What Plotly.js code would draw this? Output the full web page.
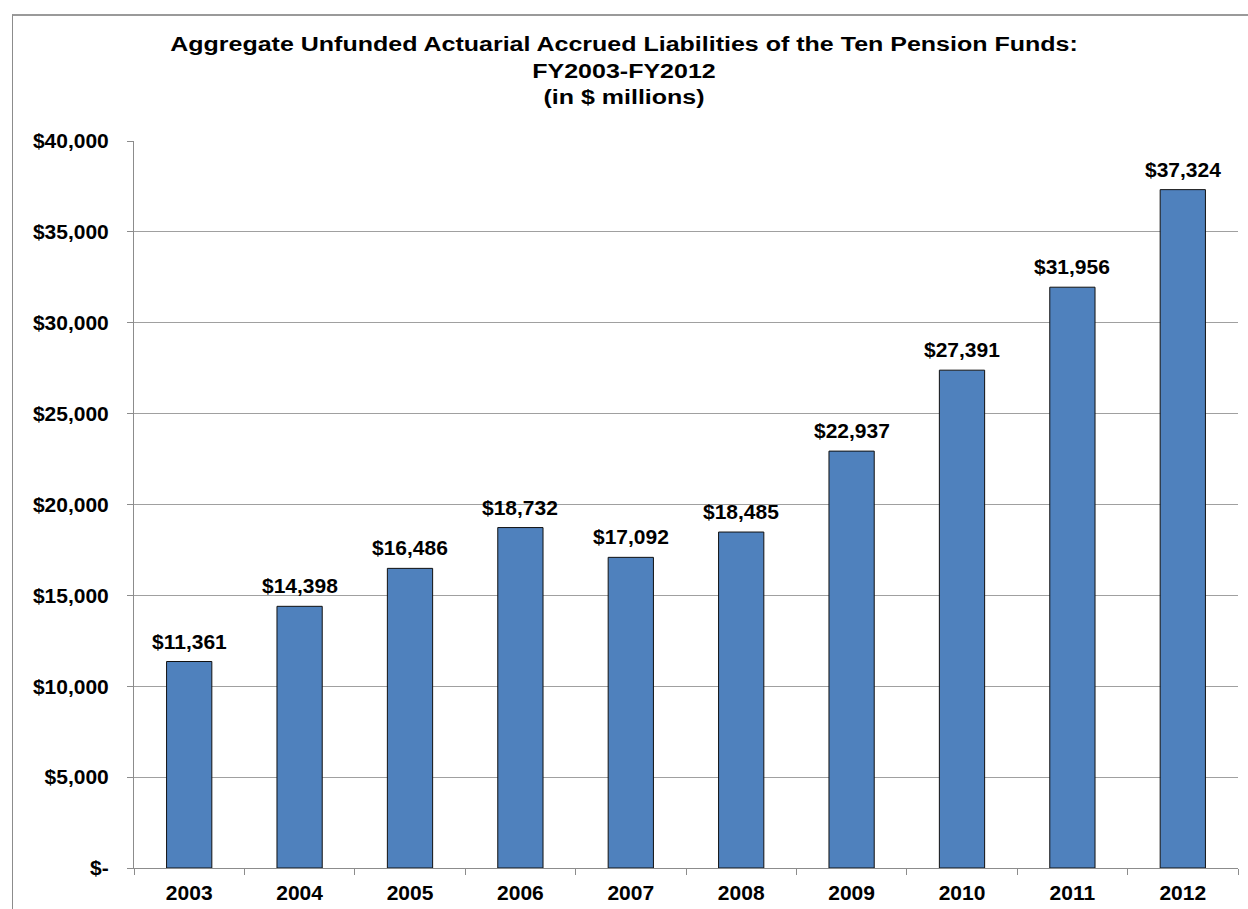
<!DOCTYPE html>
<html>
<head>
<meta charset="utf-8">
<script src="https://cdn.plot.ly/plotly-3.0.1.min.js"></script>
<style>
  html, body { margin: 0; padding: 0; background: #fff; }
  #chart { position: absolute; left: 0; top: 0; width: 1248px; height: 909px; }
  #frame { position: absolute; left: 12px; top: 14px; width: 1248px; height: 909px;
           border-left: 1px solid #8c8c8c; border-top: 2px solid #9a9a9a; pointer-events: none; }
</style>
</head>
<body>
<div id="chart"></div>
<div id="frame"></div>
<script>
const years = ["2003", "2004", "2005", "2006", "2007", "2008", "2009", "2010", "2011", "2012"];
const liabilities = [11361, 14398, 16486, 18732, 17092, 18485, 22937, 27391, 31956, 37324];
const yTickVals = [0, 5000, 10000, 15000, 20000, 25000, 30000, 35000, 40000];
const yTickText = ["$-", "$5,000", "$10,000", "$15,000", "$20,000", "$25,000", "$30,000", "$35,000", "$40,000"];
const titleLines = ["Aggregate Unfunded Actuarial Accrued Liabilities of the Ten Pension Funds:", "FY2003-FY2012", "(in $ millions)"];

const font = "'Liberation Sans', Arial, Helvetica, sans-serif";
const labelSize = 21;

const trace = {
  type: "bar",
  x: years,
  y: liabilities,
  marker: { color: "#4F81BD", line: { color: "#111111", width: 1 } },
  hoverinfo: "none"
};

// data labels above each bar (x given as category index)
const labelAnnotations = years.map((yr, i) => ({
  x: i,
  y: liabilities[i],
  xref: "x", yref: "y",
  text: "$" + liabilities[i].toLocaleString("en-US"),
  showarrow: false,
  xanchor: "center",
  yanchor: "bottom",
  yshift: 7,
  font: { family: font, size: labelSize, color: "#000", weight: "bold" }
}));

const layout = {
  width: 1248,
  height: 909,
  margin: { l: 134, r: 10, t: 141, b: 41 },
  paper_bgcolor: "#fff",
  plot_bgcolor: "#fff",
  font: { family: font, color: "#000" },
  bargap: 0.59,
  showlegend: false,
  title: {
    text: titleLines.join("<br>"),
    font: { family: font, size: 20.5, color: "#000", weight: "bold" },
    x: 0.5, xref: "container", xanchor: "center",
    y: 1 - 51 / 909, yref: "container", yanchor: "top"
  },
  annotations: labelAnnotations,
  xaxis: {
    type: "category",
    range: [-0.5, years.length - 0.5],
    showline: true, linecolor: "#8c8c8c", linewidth: 1,
    ticks: "outside", tickson: "boundaries", ticklen: 6, tickcolor: "#8c8c8c",
    showgrid: false,
    tickfont: { family: font, size: labelSize, color: "#000", weight: "bold" },
    ticklabelstandoff: 6
  },
  yaxis: {
    range: [0, 40000],
    tickvals: yTickVals,
    ticktext: yTickText,
    tickfont: { family: font, size: labelSize, color: "#000", weight: "bold" },
    showgrid: true, gridcolor: "#a0a0a0", gridwidth: 1,
    showline: true, linecolor: "#8c8c8c", linewidth: 1,
    ticks: "outside", ticklen: 6, tickcolor: "#8c8c8c",
    zeroline: false,
    ticklabelstandoff: 14
  }
};

Plotly.newPlot("chart", [trace], layout, { displayModeBar: false, staticPlot: true }).then(() => {
  // the reference title is drawn with horizontally wide lettering
  const el = document.querySelector("#chart .gtitle");
  if (el) {
    const cx = parseFloat(el.getAttribute("x")) || 624;
    const prev = el.getAttribute("transform") || "";
    el.setAttribute("transform", `translate(${cx},0) scale(1.22,1) translate(${-cx},0) ${prev}`);
  }
});
</script>
</body>
</html>
